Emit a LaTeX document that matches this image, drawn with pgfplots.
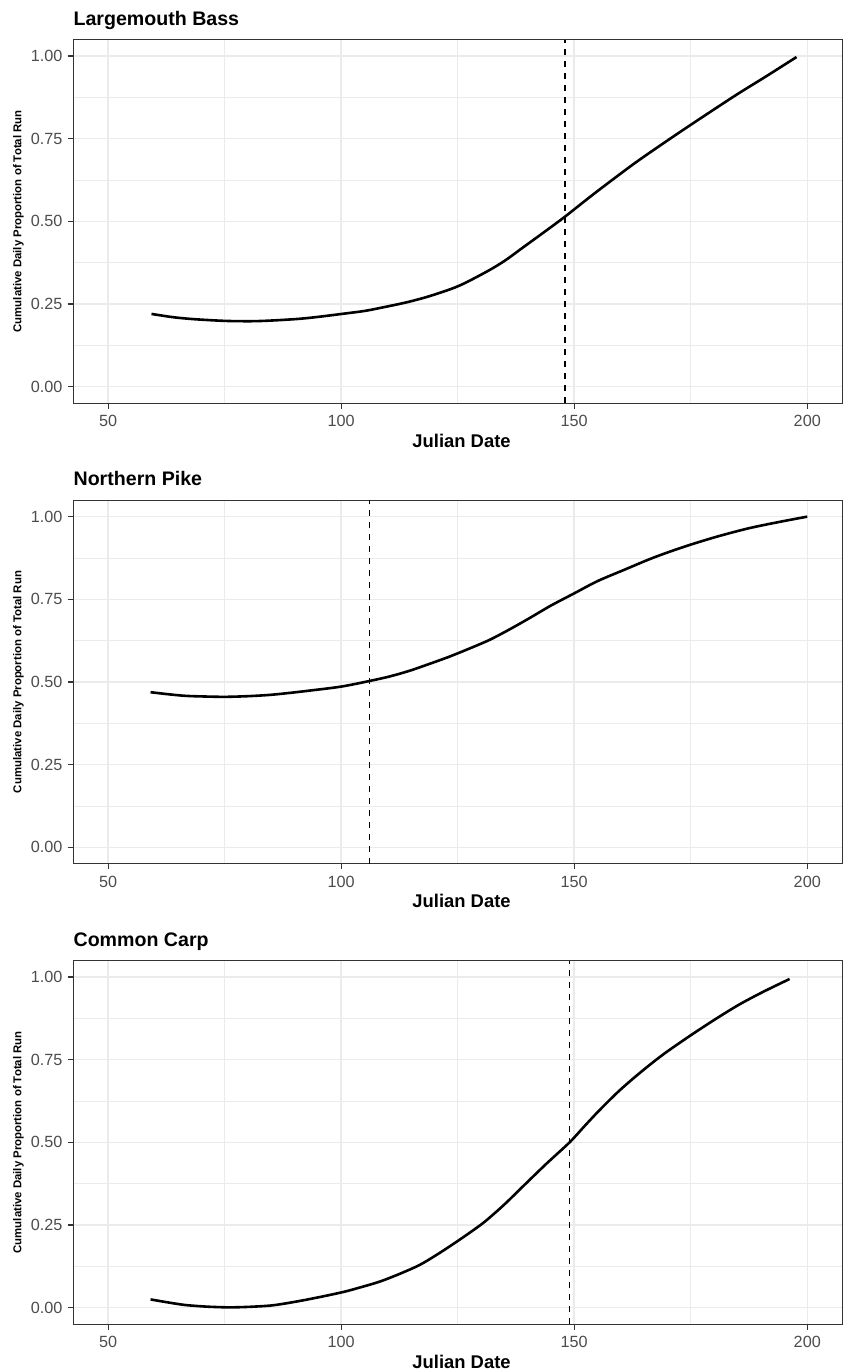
\documentclass[border=0pt]{standalone}
\usepackage{fontspec}
\setmainfont{Liberation Sans}
\usepackage{pgfplots}
\pgfplotsset{compat=1.18}
\definecolor{gridc}{HTML}{EBEBEB}
\definecolor{framec}{HTML}{333333}
\definecolor{tickc}{HTML}{4D4D4D}

\pgfplotsset{
 panel/.style={
  scale only axis, width=384.5pt, height=181.85pt,
  xmin=42.5, xmax=207.5, ymin=-0.05, ymax=1.05,
  xtick={50,100,150,200}, minor xtick={75,125,175},
  ytick={0,0.25,0.5,0.75,1}, minor ytick={0.125,0.375,0.625,0.875},
  yticklabels={0.00,0.25,0.50,0.75,1.00},
  xticklabels={50,100,150,200},
  grid=both,
  major grid style={gridc, line width=0.75pt},
  minor grid style={gridc, line width=0.4pt},
  axis line style={framec, line width=0.55pt},
  tick align=outside, major tick length=2.75pt, minor tick length=0pt,
  tick style={framec, line width=0.55pt},
  tick pos=left,
  ticklabel style={font=\fontsize{8.1}{9}\selectfont, text=tickc},
  xticklabel style={anchor=base, inner sep=0pt, yshift=-9pt},
  yticklabel style={anchor=east, inner sep=0pt, xshift=-2.5pt},
  /pgf/number format/assume math mode=true,
  every axis title/.style={at={(axis description cs:0,1)}, anchor=base west, yshift=7.25pt, inner sep=0pt, font=\bfseries\fontsize{9.8}{11}\selectfont},
  every axis x label/.style={at={(axis description cs:0.505,0)}, anchor=base, yshift=-22pt, inner sep=0pt, font=\bfseries\fontsize{9.2}{10}\selectfont},
  every axis y label/.style={at={(axis description cs:-0.0711,0.5)}, anchor=center, rotate=90, inner sep=0pt, font=\bfseries\fontsize{5.7}{6}\selectfont},
  xlabel={Julian Date}, ylabel={Cumulative Daily Proportion of Total Run},
 },
 curve/.style={black, line width=1.3pt, smooth, tension=0.5, no markers},
 vline/.style={black, line width=0.6pt, dash pattern=on 3pt off 3pt},
}

\begin{document}
\begin{tikzpicture}
\useasboundingbox (0,0) rectangle (422pt,-685pt);

\begin{axis}[panel, at={(36.6pt,-201.6pt)}, anchor=south west, title={Largemouth Bass}]
\addplot[curve] coordinates {
(59.3,0.220) (64,0.210) (68.6,0.204) (75,0.199) (80.7,0.198) (85,0.200) (90.8,0.205)
(95,0.211) (100.1,0.220) (105,0.229) (109,0.240) (114,0.255) (119,0.274) (125.1,0.304)
(131.1,0.347) (135,0.380) (139.2,0.423) (143.5,0.467) (148,0.514) (154.3,0.584)
(162.4,0.670) (168.5,0.730) (174.9,0.791) (184.6,0.881) (191,0.937) (197.7,0.997)};
\addplot[vline] coordinates {(148,-0.05) (148,1.05)};
\end{axis}

\begin{axis}[panel, at={(36.6pt,-431.9pt)}, anchor=south west, title={Northern Pike}]
\addplot[curve] coordinates {
(59.1,0.469) (62.8,0.463) (66.6,0.458) (70.8,0.456) (75.1,0.455) (80,0.457) (84.8,0.461)
(89,0.467) (93.3,0.474) (100,0.486) (106.1,0.503) (110.5,0.517) (114.7,0.534) (119,0.555)
(123.3,0.577) (127.5,0.601) (131.8,0.627) (136,0.658) (140.4,0.693) (145,0.731) (150,0.768)
(155,0.805) (160.7,0.839) (167,0.876) (173.6,0.909) (180.5,0.939) (187.5,0.965) (194,0.984) (200,1.0)};
\addplot[vline] coordinates {(106.1,-0.05) (106.1,1.05)};
\end{axis}

\begin{axis}[panel, at={(36.6pt,-662.1pt)}, anchor=south west, title={Common Carp}]
\addplot[curve] coordinates {
(59.1,0.025) (62.8,0.016) (66.6,0.008) (71.4,0.003) (76.2,0.001) (81,0.003) (85.8,0.008)
(92.5,0.024) (100,0.046) (104,0.061) (108.3,0.079) (112.5,0.102) (116.8,0.129) (120.5,0.160)
(124.3,0.195) (127.5,0.226) (130.8,0.260) (135,0.312) (139.3,0.371) (144,0.435) (149,0.500)
(152.2,0.549) (155.4,0.597) (159.5,0.654) (163.9,0.708) (169,0.765) (174.6,0.820) (180,0.870)
(185.3,0.916) (190.5,0.955) (196.2,0.994)};
\addplot[vline] coordinates {(149,-0.05) (149,1.05)};
\end{axis}
\end{tikzpicture}
\end{document}
